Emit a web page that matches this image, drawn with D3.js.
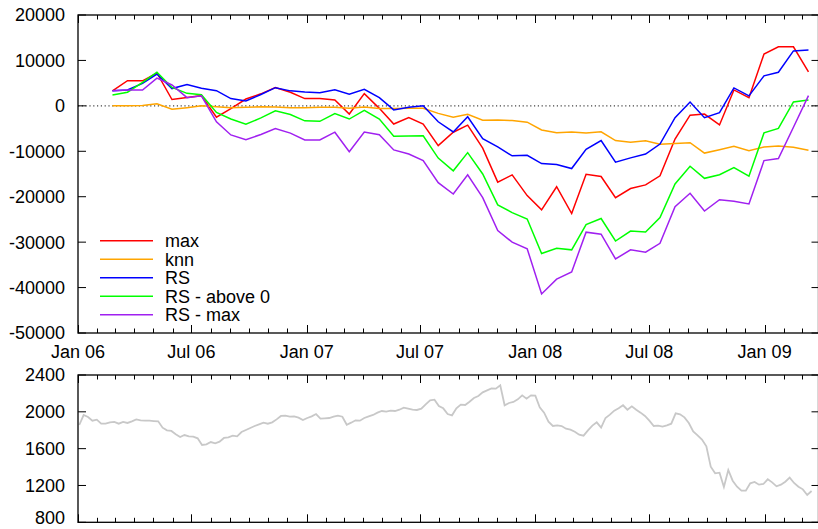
<!DOCTYPE html>
<html>
<head>
<meta charset="utf-8">
<script src="https://cdn.jsdelivr.net/npm/d3@7"></script>
<style>
  html, body { margin: 0; padding: 0; background: #fff; }
  svg { display: block; }
  text { font-family: "Liberation Sans", Arial, Helvetica, sans-serif; fill: #000; }
</style>
</head>
<body>
<svg id="chart" width="818" height="529"></svg>
<script>
// Sampling dates for the strategy results
const dates = [
  "2006-02-25","2006-03-21","2006-04-14","2006-05-07","2006-05-31","2006-06-24",
  "2006-07-17","2006-08-10","2006-09-02","2006-09-26","2006-10-20","2006-11-12",
  "2006-12-06","2006-12-29","2007-01-22","2007-02-15","2007-03-10","2007-04-03",
  "2007-04-27","2007-05-20","2007-06-13","2007-07-06","2007-07-30","2007-08-23",
  "2007-09-15","2007-10-09","2007-11-02","2007-11-25","2007-12-19","2008-01-11",
  "2008-02-04","2008-02-28","2008-03-22","2008-04-15","2008-05-08","2008-06-01",
  "2008-06-25","2008-07-18","2008-08-11","2008-09-04","2008-09-27","2008-10-21",
  "2008-11-13","2008-12-07","2008-12-31","2009-01-23","2009-02-16","2009-03-12"
];

const maxValues = [
  3300, 5550, 5500, 7250, 1400, 1850, 2250, -2500, -600, 1500, 2650, 4050,
  3000, 1600, 1600, 1300, -1800, 2700, -550, -4000, -2600, -4000, -8750, -5800,
  -4250, -9300, -16800, -15200, -19750, -22900, -17800, -23700, -15050, -15550, -20200, -18200,
  -17400, -15400, -7300, -2050, -1800, -4200, 3500, 1800, 11400, 13000, 13000, 7500
];
const knnValues = [
  0, 0, 100, 450, -750, -400, 0, -200, -400, -300, -200, -250,
  -400, -400, -300, -300, -500, -250, -600, -600, -550, -550, -1650, -2500,
  -1850, -3150, -3100, -3250, -3600, -5300, -5900, -5750, -5950, -5700, -7650, -8000,
  -7700, -8450, -8300, -8100, -10400, -9650, -8900, -9900, -9050, -8850, -9100, -9750
];
const rsValues = [
  3350, 3500, 4950, 7000, 3800, 4700, 3870, 3350, 1600, 1080, 2500, 4000,
  3300, 3050, 2900, 3550, 2550, 3650, 1800, -900, -300, 0, -3500, -5750,
  -2400, -7200, -9050, -11000, -10900, -12700, -12900, -13800, -9550, -7650, -12400, -11450,
  -10600, -8400, -2600, 850, -2600, -1500, 3950, 2200, 6600, 7400, 12100, 12300
];
const rsAbove0Values = [
  2400, 3000, 5150, 7400, 4050, 2750, 2450, -1450, -2900, -4050, -2650, -1100,
  -1900, -3300, -3400, -1700, -2900, -1000, -2900, -6700, -6650, -6600, -11500, -14300,
  -10300, -15000, -21800, -23500, -24900, -32500, -31350, -31700, -26150, -24800, -29750, -27550,
  -27750, -24600, -17200, -13300, -15950, -15150, -13600, -15500, -5950, -4950, 850, 1300
];
const rsMaxValues = [
  3300, 3500, 3500, 6100, 4600, 1800, 2200, -3500, -6400, -7450, -6300, -5000,
  -6000, -7500, -7500, -5800, -10100, -5750, -6350, -9700, -10600, -12050, -16900, -19400,
  -15200, -20200, -27450, -30000, -31450, -41400, -38150, -36550, -27800, -28250, -33700, -31700,
  -32200, -30250, -22200, -19250, -23150, -20650, -21000, -21600, -12050, -11600, -4700, 2250
];

const seriesNames = ["max", "knn", "RS", "RS - above 0", "RS - max"];
const seriesColors = ["#ff0000", "#ffa500", "#0000ff", "#00ff00", "#a020f0"];
const seriesValues = [maxValues, knnValues, rsValues, rsAbove0Values, rsMaxValues];

// Weekly index closes, starting 2006-01-03
const priceStart = "2006-01-03";
const priceValues = [
  1857, 1965, 1944, 1904, 1915, 1871, 1871, 1886, 1890, 1871, 1890, 1879,
  1897, 1918, 1908, 1904, 1904, 1900, 1897, 1828, 1799, 1792, 1756, 1727,
  1748, 1734, 1730, 1712, 1640, 1647, 1672, 1658, 1676, 1716, 1723, 1741,
  1734, 1781, 1803, 1824, 1846, 1864, 1882, 1871, 1886, 1918, 1955, 1958,
  1947, 1951, 1937, 1911, 1933, 1951, 1976, 1926, 1929, 1933, 1947, 1958,
  1947, 1860, 1882, 1908, 1904, 1933, 1951, 1966, 1991, 2009, 2002, 2013,
  2009, 2023, 2045, 2034, 2023, 2020, 2034, 2081, 2125, 2132, 2063, 2038,
  1976, 1962, 2038, 2078, 2074, 2110, 2150, 2172, 2212, 2233, 2255, 2252,
  2288, 2071, 2096, 2107, 2136, 2179, 2143, 2179, 2176, 2049, 1991, 1893,
  1846, 1853, 1846, 1817, 1806, 1784, 1752, 1741, 1799, 1850, 1886, 1828,
  1933, 1969, 2013, 2038, 2071, 2023, 2060, 2023, 1991, 1955, 1904, 1846,
  1850, 1839, 1853, 1871, 1984, 1973, 1940, 1879, 1788, 1745, 1698, 1625,
  1404, 1332, 1339, 1183, 1368, 1252, 1187, 1144, 1144, 1223, 1238, 1209,
  1216, 1267, 1234, 1191, 1209, 1241, 1285, 1227, 1187, 1158, 1097, 1140
];

const yTicksTop = [20000, 10000, 0, -10000, -20000, -30000, -40000, -50000];
const yTicksBottom = [800, 1200, 1600, 2000, 2400];

const parse = d3.utcParse("%Y-%m-%d");
const svg = d3.select("#chart");

const W = 818, H = 529;
const left = 78, right = 818.5;
const top1 = 15, bottom1 = 333;
const top2 = 375, bottom2 = 522.3;
const fontSize = 18;

const x = d3.scaleUtc()
  .domain([parse("2006-01-01"), parse("2009-03-28")])
  .range([left, right]);

const y1 = d3.scaleLinear().domain([-50000, 20000]).range([bottom1, top1]);
const y2 = d3.scaleLinear().domain([800, 2400]).range([bottom2, top2]);

const monthTicks = d3.utcMonth.range(parse("2006-01-01"), parse("2009-03-29"));
const majorTicks = monthTicks.filter(d => d.getUTCMonth() % 6 === 0);
const fmt = d3.utcFormat("%b %y");

function frame(yTop, yBot, yScale, yTicks, labelX) {
  const g = svg.append("g");
  // y ticks, left and mirrored on right
  yTicks.forEach(v => {
    const yy = yScale(v);
    g.append("line").attr("x1", left).attr("x2", left + 8).attr("y1", yy).attr("y2", yy)
      .attr("stroke", "#000").attr("stroke-width", 1);
    g.append("line").attr("x1", right - 7).attr("x2", right).attr("y1", yy).attr("y2", yy)
      .attr("stroke", "#000").attr("stroke-width", 1);
    // keep the lowest label (with its descent) inside the canvas
    const baseline = Math.min(yy + 0.36 * fontSize, H - 5);
    g.append("text").attr("x", 65).attr("y", baseline)
      .attr("text-anchor", "end").attr("font-size", fontSize).text(v);
  });
  // x ticks: monthly minor, half-yearly major, bottom and top
  monthTicks.forEach(d => {
    const xx = Math.round(x(d)) + 0.5;
    const len = d.getUTCMonth() % 6 === 0 ? 8 : 4.5;
    g.append("line").attr("x1", xx).attr("x2", xx).attr("y1", yBot).attr("y2", yBot - len)
      .attr("stroke", "#000").attr("stroke-width", 1);
    g.append("line").attr("x1", xx).attr("x2", xx).attr("y1", yTop).attr("y2", yTop + len)
      .attr("stroke", "#000").attr("stroke-width", 1);
  });
  if (labelX) {
    majorTicks.forEach(d => {
      g.append("text").attr("x", x(d)).attr("y", yBot + 25)
        .attr("text-anchor", "middle").attr("font-size", fontSize).text(fmt(d));
    });
  }
  g.append("rect").attr("x", left).attr("y", yTop)
    .attr("width", right - left).attr("height", yBot - yTop)
    .attr("fill", "none").attr("stroke", "#000").attr("stroke-width", 1.3);
}

// Upper panel: strategy results
const plot1 = svg.append("g");
plot1.append("line")
  .attr("x1", left).attr("x2", right).attr("y1", y1(0)).attr("y2", y1(0))
  .attr("stroke", "#444").attr("stroke-width", 1.2).attr("stroke-dasharray", "1.2,2.6");

const line1 = d3.line().x((d, i) => x(parse(dates[i]))).y(d => y1(d));
seriesValues.forEach((vals, k) => {
  plot1.append("path").datum(vals).attr("d", line1)
    .attr("fill", "none").attr("stroke", seriesColors[k])
    .attr("stroke-width", 1.5).attr("stroke-linejoin", "miter");
});

// Legend
const legend = svg.append("g");
seriesNames.forEach((name, k) => {
  const ly = 240.7 + k * 18.5;
  legend.append("line").attr("x1", 100).attr("x2", 153).attr("y1", ly).attr("y2", ly)
    .attr("stroke", seriesColors[k]).attr("stroke-width", 1.5);
  legend.append("text").attr("x", 165).attr("y", ly).attr("dy", "0.36em")
    .attr("font-size", fontSize).text(name);
});

frame(top1, bottom1, y1, yTicksTop, true);

// Lower panel: index level
const p0 = parse(priceStart);
const line2 = d3.line()
  .x((d, i) => x(d3.utcDay.offset(p0, 7 * i)))
  .y(d => y2(d));
svg.append("path").datum(priceValues).attr("d", line2)
  .attr("fill", "none").attr("stroke", "#c8c8c8").attr("stroke-width", 1.8);

frame(top2, bottom2, y2, yTicksBottom, false);
</script>
</body>
</html>
